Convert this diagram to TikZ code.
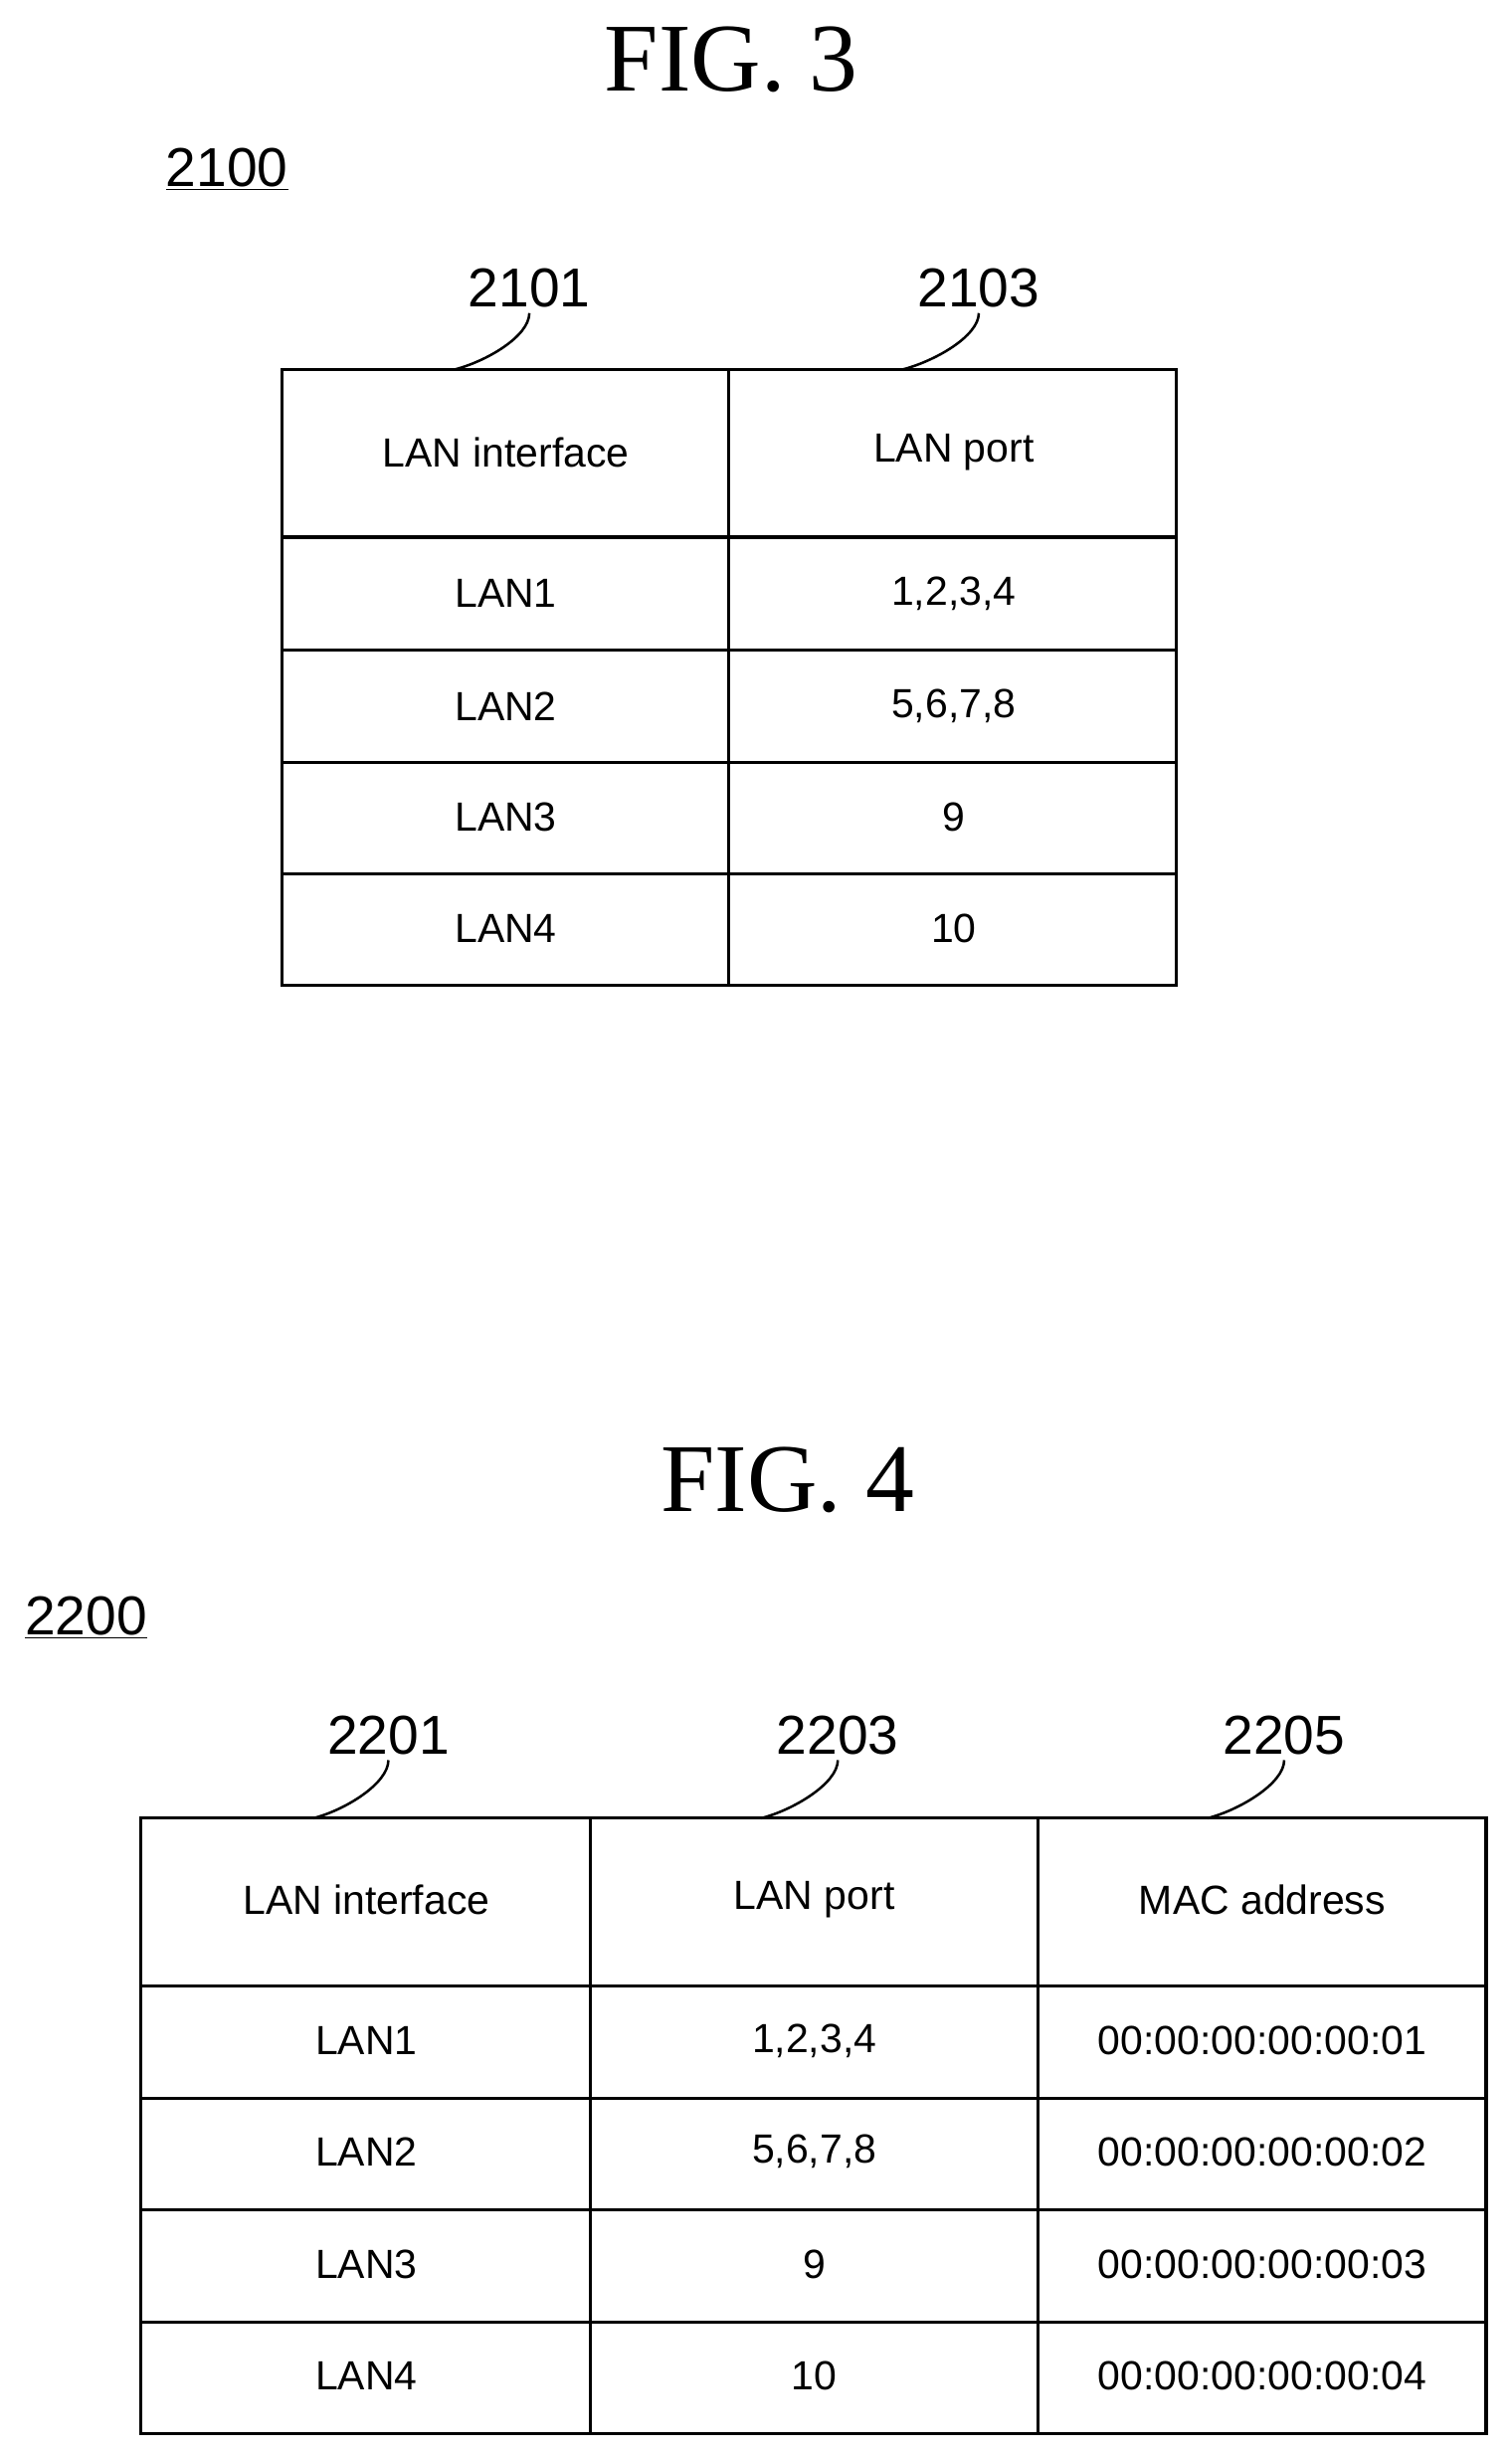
\documentclass[tikz,border=0pt]{standalone}
\usepackage{fontspec}
\setmainfont{Liberation Sans}
\newfontfamily\figfont{Liberation Serif}
\begin{document}
\begin{tikzpicture}[x=1pt,y=-1pt,
  cell/.style={font=\fontsize{26}{30}\selectfont},
  ref/.style={font=\fontsize{35}{40}\selectfont},
  figt/.style={font=\figfont\fontsize{62}{70}\selectfont},
  grid/.style={line width=2pt},
  lead/.style={line width=1.6pt}]
\useasboundingbox (0,0) rectangle (965,1567);
\node[figt] (f3) at (467,38) {FIG. 3};
\node[figt] (f4) at (503,945) {FIG. 4};
\node[ref] (t1) at (145,108) {\underline{2100}};
\node[ref] (t2) at (55,1033) {\underline{2200}};
% table 1
\draw[grid] (180,236) rectangle (751,629);
\foreach \y in {343,415,487,558} \draw[grid] (180,\y) -- (751,\y);
\draw[grid] (465,236) -- (465,629);
\node[cell] (a0) at (323,289) {LAN interface};
\node[cell] (b0) at (609,289) {LAN port};
\node[cell] (a1) at (323,379) {LAN1};
\node[cell] (b1) at (609,379) {1,2,3,4};
\node[cell] (a2) at (323,451) {LAN2};
\node[cell] (b2) at (609,451) {5,6,7,8};
\node[cell] (a3) at (323,522) {LAN3};
\node[cell] (b3) at (609,522) {9};
\node[cell] (a4) at (323,593) {LAN4};
\node[cell] (b4) at (609,593) {10};
\node[ref] (l1) at (338,184) {2101};
\node[ref] (l3) at (625,184) {2103};
\coordinate (e1) at (290,236);
\coordinate (e3) at (576,236);
\draw[lead] (l1.south) .. controls +(0,15) and +(20,-5) .. (e1);
\draw[lead] (l3.south) .. controls +(0,15) and +(20,-5) .. (e3);
% table 2
\draw[grid] (90,1161) rectangle (949,1554);
\foreach \y in {1268,1340,1411,1483} \draw[grid] (90,\y) -- (949,\y);
\draw[grid] (377,1161) -- (377,1554);
\draw[grid] (663,1161) -- (663,1554);
\node[cell] (c0) at (234,1213) {LAN interface};
\node[cell] (d0) at (520,1213) {LAN port};
\node[cell] (g0) at (806,1213) {MAC address};
\node[cell] (c1) at (234,1303) {LAN1};
\node[cell] (d1) at (520,1303) {1,2,3,4};
\node[cell] (g1) at (806,1303) {00:00:00:00:00:01};
\node[cell] (c2) at (234,1374) {LAN2};
\node[cell] (d2) at (520,1374) {5,6,7,8};
\node[cell] (g2) at (806,1374) {00:00:00:00:00:02};
\node[cell] (c3) at (234,1446) {LAN3};
\node[cell] (d3) at (520,1446) {9};
\node[cell] (g3) at (806,1446) {00:00:00:00:00:03};
\node[cell] (c4) at (234,1517) {LAN4};
\node[cell] (d4) at (520,1517) {10};
\node[cell] (g4) at (806,1517) {00:00:00:00:00:04};
\node[ref] (m1) at (248,1108) {2201};
\node[ref] (m3) at (535,1108) {2203};
\node[ref] (m5) at (820,1108) {2205};
\coordinate (k1) at (200,1161);
\coordinate (k3) at (486,1161);
\coordinate (k5) at (771,1161);
\draw[lead] (m1.south) .. controls +(0,15) and +(20,-5) .. (k1);
\draw[lead] (m3.south) .. controls +(0,15) and +(20,-5) .. (k3);
\draw[lead] (m5.south) .. controls +(0,15) and +(20,-5) .. (k5);
\end{tikzpicture}
\end{document}
